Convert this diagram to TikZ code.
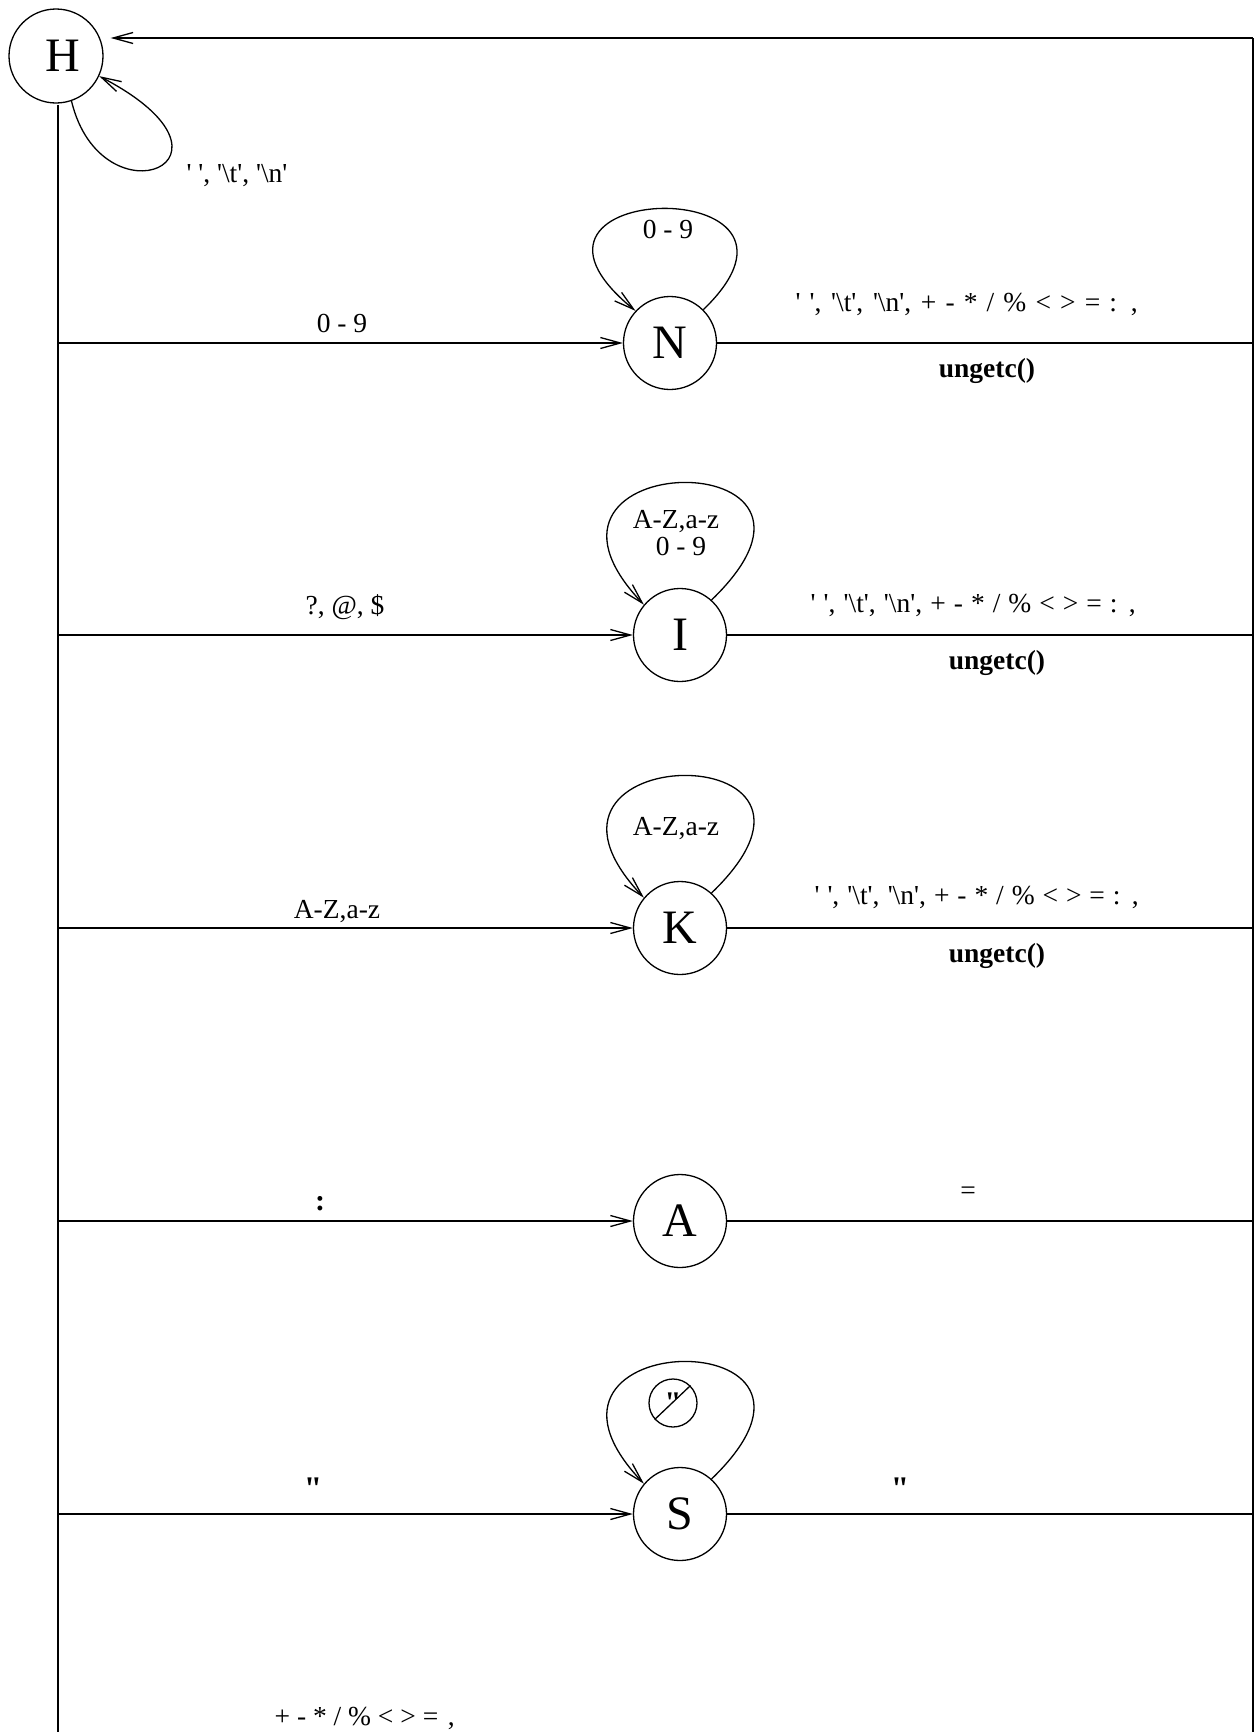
\documentclass[tikz,border=0pt]{standalone}
\usepackage{fontspec}
\setmainfont{Liberation Serif}[Ligatures=TeXOff]
\usetikzlibrary{arrows.meta}
\tikzset{
  state/.style={circle, draw, minimum size=93pt, inner sep=0pt, font=\fontsize{48}{50}\selectfont},
  lbl/.style={font=\fontsize{27.5}{30}\selectfont, inner sep=0pt, anchor=base},
  bl/.style={lbl, font=\fontsize{27.5}{30}\selectfont\bfseries},
  bq/.style={lbl, font=\fontsize{33}{35}\selectfont\bfseries},
  arr/.style={-{Straight Barb[length=20pt,width=11pt]}},
}
\newcommand\bs{\textbackslash}
\newcommand\sepl{' ', '\bs t', '\bs n', + - * / \% < > = : ,}
\begin{document}
\begin{tikzpicture}[x=1pt,y=1pt,line width=1.3pt]
\useasboundingbox (0,0) rectangle (1257,-1732);
% frame coordinates
\coordinate (tr) at (1253,-38);
\coordinate (rb) at (1253,-1732);
\coordinate (lt) at (58,-105);
\coordinate (lb) at (58,-1732);
% states
\node[state, minimum size=94pt] (H) at (56,-56) {};
\node[font=\fontsize{48}{50}\selectfont, inner sep=0pt] (Ht) at (63,-56) {H};
\node[state] (N) at (670,-343) {N};
\node[state] (I) at (680,-635) {I};
\node[state] (K) at (680,-928) {K};
\node[state] (A) at (680,-1221) {A};
\node[state] (S) at (680,-1514) {S};
% row coordinates
\foreach \n/\y in {N/343,I/635,K/928,A/1221,S/1514}{
  \coordinate (l\n) at (58,-\y);
  \coordinate (r\n) at (1253,-\y);
}
% frame lines
\draw (lt) -- (lb);
\draw (tr) -- (rb);
\draw[arr, shorten >=7pt] (tr) -- (tr -| H.east);
% H loop
\draw[arr] (H.289) .. controls +(30,-125) and +(163,-85) .. (H.335);
\node[lbl] (hl) at (237,-182) {' ', '\bs t', '\bs n'};
% inputs and outputs
\foreach \n in {N,I,K,A,S}{
  \draw[arr] (l\n) -- (\n);
  \draw (\n) -- (r\n);
}
% loops
\draw[arr] (N.45) .. controls +(144,139) and +(-162,132) .. (N.137);
\draw[arr] (I.48) .. controls +(166,160) and +(-151,159) .. (I.140);
\draw[arr] (K.48) .. controls +(166,160) and +(-151,159) .. (K.140);
\draw[arr] (S.48) .. controls +(166,160) and +(-151,159) .. (S.140);
% N labels
\node[lbl] (n1) at (342,-332) {0 - 9};
\node[lbl] (n2) at (668,-238) {0 - 9};
\node[lbl, anchor=base west] (n3) at (795,-311) {\makebox[342pt][s]{\sepl}};
\node[bl] (n4) at (987,-377) {ungetc()};
% I labels
\node[lbl] (i1) at (345,-614) {?, @, \$};
\node[lbl] (i2) at (676,-528) {A-Z,a-z};
\node[lbl] (i3) at (681,-555) {0 - 9};
\node[lbl, anchor=base west] (i4) at (810,-612) {\makebox[325pt][s]{\sepl}};
\node[bl] (i5) at (997,-669) {ungetc()};
% K labels
\node[lbl] (k1) at (337,-918) {A-Z,a-z};
\node[lbl] (k2) at (676,-835) {A-Z,a-z};
\node[lbl, anchor=base west] (k3) at (814,-904) {\makebox[324pt][s]{\sepl}};
\node[bl] (k4) at (997,-962) {ungetc()};
% A labels
\node[lbl, font=\fontsize{30}{32}\selectfont\bfseries] (a1) at (320,-1210) {:};
\node[lbl] (a2) at (968,-1199) {=};
% S labels
\node[bq] (s1) at (313,-1499) {"};
\node[bq] (s2) at (900,-1499) {"};
\node[circle, draw, minimum size=48pt, inner sep=0pt, font=\fontsize{30}{32}\selectfont\bfseries] (q) at (673,-1403) {"};
\draw (q.222) -- (q.45);
% bottom label
\node[lbl, anchor=base west] (b1) at (274,-1725) {+ - * / \% < > =\hspace{0.35em},};
\end{tikzpicture}
\end{document}
